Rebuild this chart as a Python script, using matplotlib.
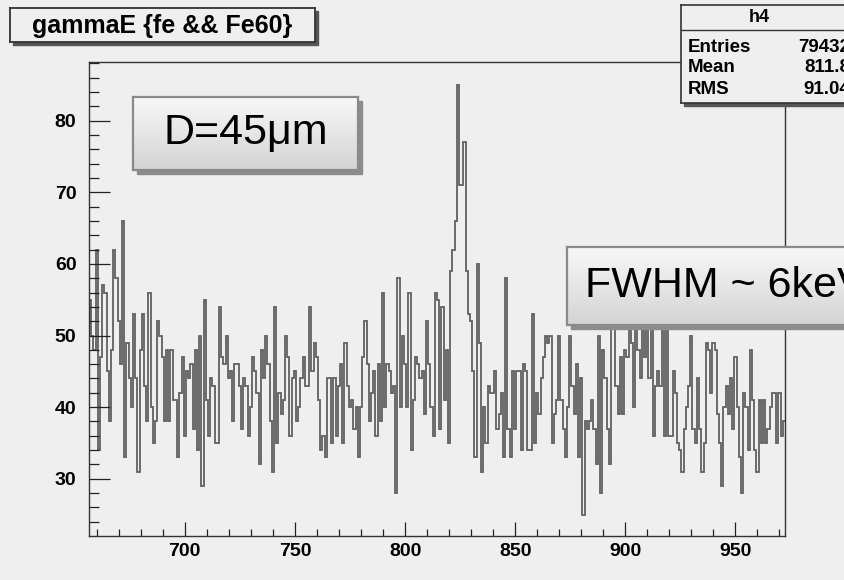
import numpy as np
import matplotlib.pyplot as plt
from matplotlib.patches import Rectangle
from matplotlib.colors import LinearSegmentedColormap

plt.rcParams['font.family'] = ['Liberation Sans', 'DejaVu Sans']

# histogram h4: 1 keV bins, first edge at 656.5 keV
first_edge = 656.5
counts_657 = [55, 50, 48, 62, 34, 47, 57, 56, 45, 38, 48, 62, 58, 52, 46, 66, 33, 49,
              44, 40, 53, 44, 31, 48, 53, 43, 38, 56, 40, 35, 38, 52, 50, 47, 38]
counts_692 = [48, 38, 48, 41, 41, 33, 42, 47, 36, 45, 44, 46, 37, 48, 34, 50, 29, 55,
              41, 36, 44, 43, 35, 35, 54, 47, 46, 50, 44, 45, 38, 46]
counts_724 = [46, 43, 37, 44, 43, 36, 40, 47, 45, 42, 32, 48, 44, 50, 46, 38, 31, 54,
              35, 42, 39, 41, 50, 47, 36, 44, 45, 38, 40, 44, 47, 43]
counts_756 = [43, 54, 45, 49, 47, 41, 34, 36, 33, 44, 44, 35, 44, 36, 43, 46, 35, 49,
              43, 40, 41, 37, 40, 33, 40, 47, 52, 46, 38, 42, 45, 36]
counts_788 = [46, 38, 56, 40, 46, 45, 42, 43, 28, 58, 40, 50, 46, 40, 56, 34, 41, 47,
              46, 44, 45, 39, 52, 46, 40, 36, 56, 55, 37, 54, 41, 48]
counts_820 = [35, 59, 62, 66, 85, 71, 71, 77, 59, 53, 52, 45, 33, 60, 49, 31, 40, 35,
              43, 42, 42, 45, 37, 39, 42, 33, 58, 37, 33, 45, 37, 45]
counts_852 = [45, 34, 46, 45, 34, 34, 53, 35, 42, 39, 44, 47, 50, 49, 50, 35, 39, 41,
              50, 41, 37, 33, 40, 50, 43, 39, 46, 33, 44, 25, 38, 37]
counts_884 = [38, 41, 37, 32, 50, 28, 48, 44, 37, 32, 53, 55, 43, 39, 47, 39, 48, 47,
              54, 49, 40, 56, 48, 44, 53, 47, 57, 44, 53, 36, 43, 45]
counts_916 = [43, 55, 36, 54, 36, 36, 45, 42, 35, 34, 31, 37, 40, 43, 50, 37, 35, 44,
              37, 31, 35, 49, 48, 42, 49, 48, 39, 35, 29, 40, 43]
counts_947 = [39, 44, 37, 47, 40, 33, 28, 42, 40, 34, 48, 41, 34, 31, 41, 35, 41, 35,
              37, 40, 42, 42, 35, 42, 36, 38]

x_major = [700, 750, 800, 850, 900, 950]
y_major = [30, 40, 50, 60, 70, 80]

title_text = "gammaE {fe && Fe60}"
stats_name = "h4"
stats_labels = ["Entries", "Mean", "RMS"]
stats_values = ["79432", "811.8", "91.04"]
note_size = "D=45\u03bcm"
note_fwhm = "FWHM ~ 6keV"

W, H = 845, 580
BG = '#efefef'


def px(x, y, w, h):
    # pixel box (top-left origin) -> figure fraction rect
    return [x / W, 1 - (y + h) / H, w / W, h / H]


def shadow(x, y, w, h, off=4, color='#8c8c8c'):
    r = Rectangle(((x + off) / W, 1 - (y + h + off) / H), w / W, h / H,
                  transform=fig.transFigure, color=color, zorder=1.5)
    fig.patches.append(r)


def grad_box(x, y, w, h):
    shadow(x, y, w, h)
    bx = fig.add_axes(px(x, y, w, h), zorder=2)
    cmap = LinearSegmentedColormap.from_list('g', ['#f8f8f8', '#d4d4d4'])
    bx.imshow(np.linspace(0, 1, 64).reshape(-1, 1), cmap=cmap, aspect='auto',
              extent=[0, 1, 0, 1])
    bx.set_xlim(0, 1)
    bx.set_ylim(0, 1)
    bx.set_xticks([])
    bx.set_yticks([])
    for s in bx.spines.values():
        s.set_color('#8a8a8a')
        s.set_linewidth(1.6)
    return bx


def flat_box(x, y, w, h, lw=1.3):
    shadow(x, y, w, h, off=3, color='#555555')
    bx = fig.add_axes(px(x, y, w, h), zorder=2)
    bx.set_facecolor(BG)
    bx.set_xlim(0, w)
    bx.set_ylim(h, 0)
    bx.set_xticks([])
    bx.set_yticks([])
    for s in bx.spines.values():
        s.set_color('#333333')
        s.set_linewidth(lw)
    return bx


fig = plt.figure(figsize=(W / 100, H / 100), dpi=100, facecolor=BG)

counts = np.array(counts_657 + counts_692 + counts_724 + counts_756 + counts_788 +
                  counts_820 + counts_852 + counts_884 + counts_916 + counts_947)
edges = first_edge + np.arange(len(counts) + 1)

ax = fig.add_axes(px(89, 62, 696, 474), zorder=0)
ax.set_facecolor(BG)
ax.stairs(counts, edges, baseline=None, color='#616161', lw=1.3)
ax.set_xlim(edges[0], edges[-1])
ax.set_ylim(22.0, 88.2)

ax.set_xticks(x_major)
ax.set_xticks(np.arange(660, 973, 10), minor=True)
ax.set_yticks(y_major)
ax.set_yticks(np.arange(24, 89, 2), minor=True)
ax.tick_params(axis='x', which='major', direction='in', length=10, width=0.9,
               labelsize=14, pad=5, colors='#222222')
ax.tick_params(axis='x', which='minor', direction='in', length=5, width=0.9, colors='#222222')
ax.tick_params(axis='y', which='major', direction='in', length=15, width=0.9,
               labelsize=14, pad=9, colors='#222222')
ax.tick_params(axis='y', which='minor', direction='in', length=7.5, width=0.9, colors='#222222')
for lab in ax.get_xticklabels() + ax.get_yticklabels():
    lab.set_fontweight('bold')
    lab.set_color('black')
for s in ax.spines.values():
    s.set_color('#333333')
    s.set_linewidth(1.0)

# title box
tb = flat_box(10, 8, 305, 34)
tb.text(152, 18, title_text, ha='center', va='center', fontsize=18, fontweight='bold')

# stats box
sb = flat_box(681, 5, 200, 98, lw=1.2)
sb.axhline(25, color='#333333', lw=1.0)
sb.text(78, 13, stats_name, ha='center', va='center', fontsize=13, fontweight='bold')
for i, (lab, val) in enumerate(zip(stats_labels, stats_values)):
    yy = 42 + i * 21
    sb.text(7, yy, lab, ha='left', va='center', fontsize=13.5, fontweight='bold')
    sb.text(169, yy, val, ha='right', va='center', fontsize=13.5, fontweight='bold')

# annotation boxes
db = grad_box(133, 97, 225, 73)
db.text(0.5, 0.5, note_size, ha='center', va='center', fontsize=31)

fb = grad_box(567, 247, 300, 78)
fb.text(18 / 300, 0.5, note_fwhm, ha='left', va='center', fontsize=31)

fig.savefig('out.png', dpi=100, facecolor=BG)
